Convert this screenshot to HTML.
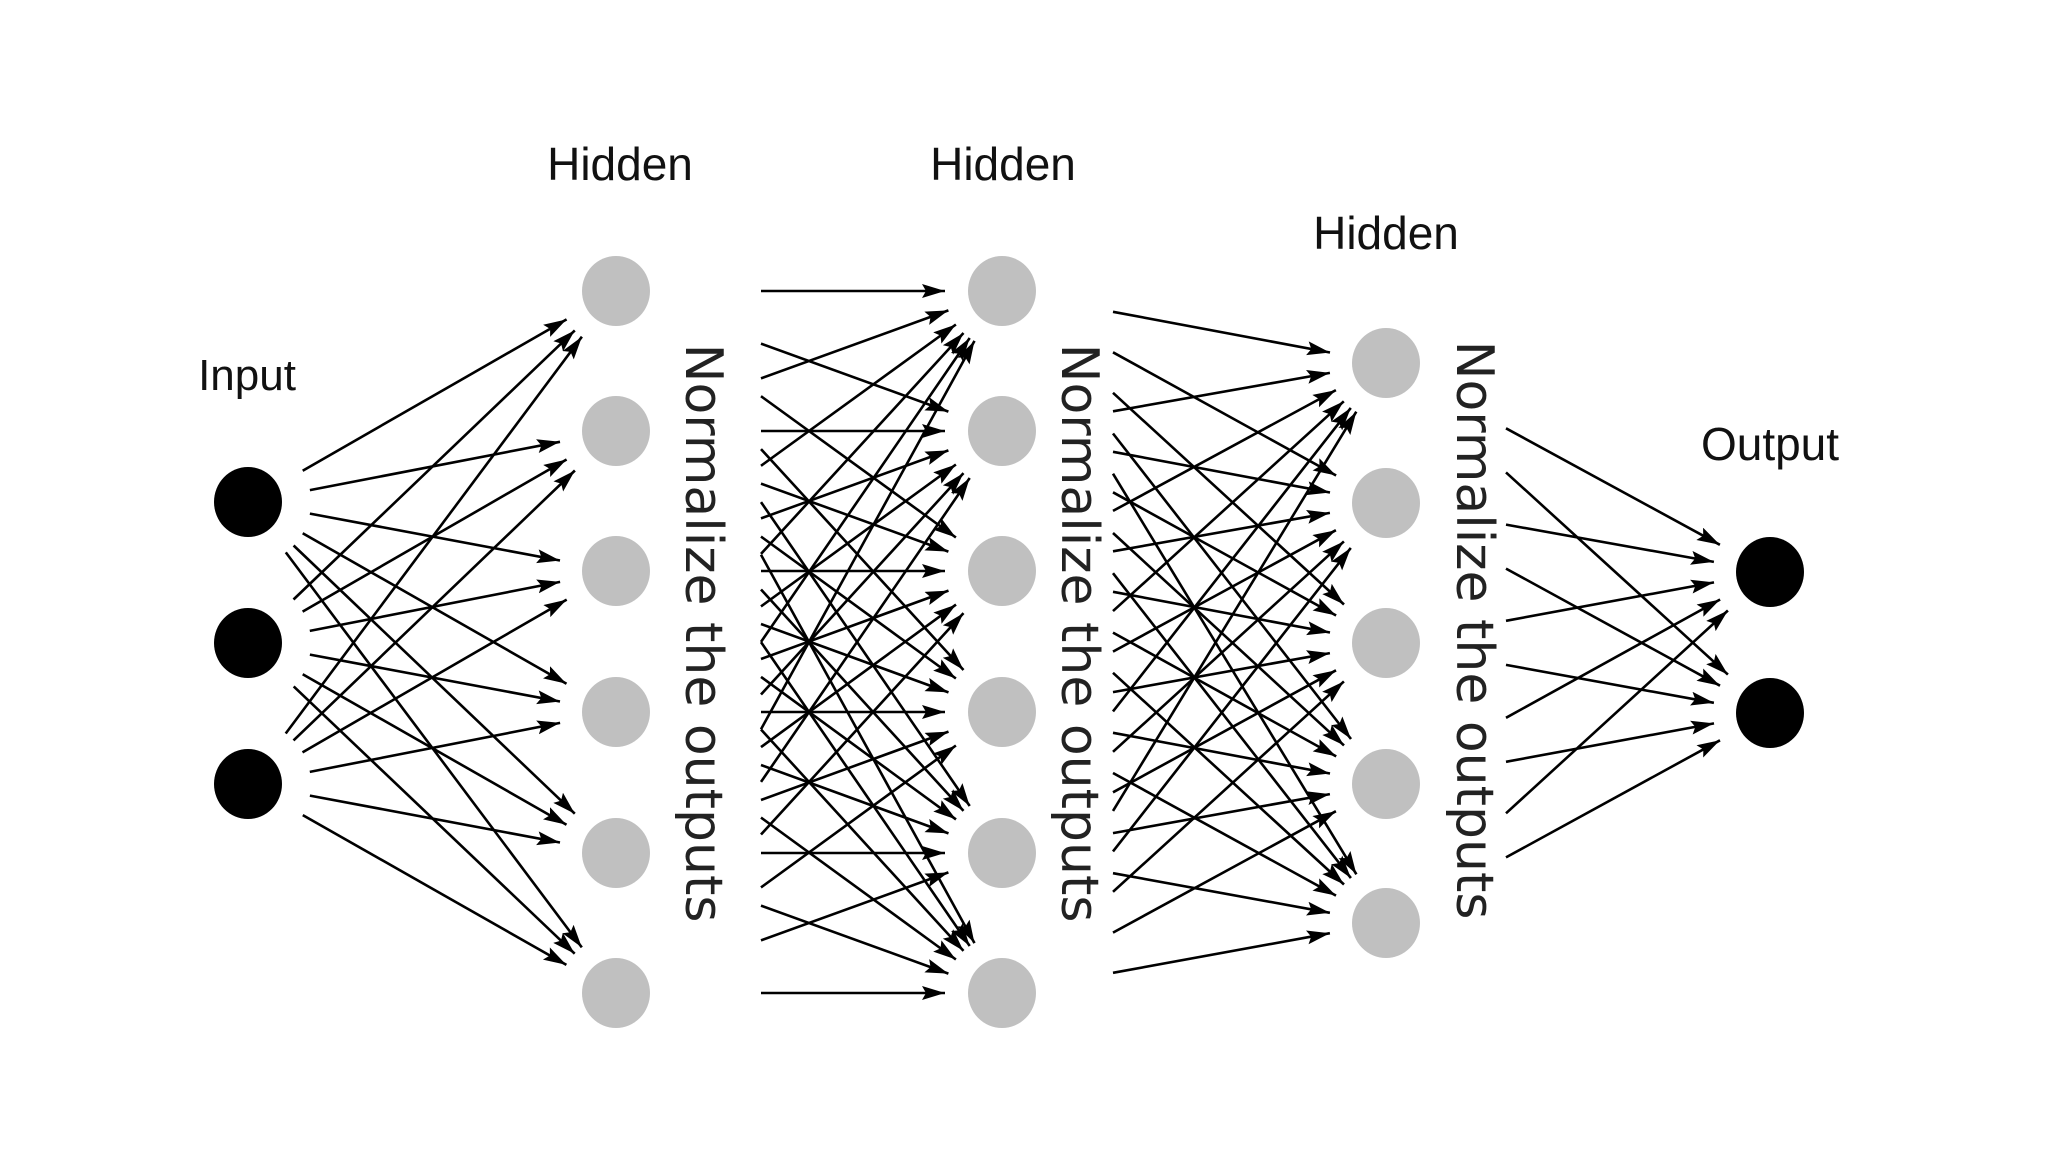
<!DOCTYPE html>
<html><head><meta charset="utf-8">
<style>
html,body{margin:0;padding:0;background:#fff;}
svg{display:block;}
text{font-family:"Liberation Sans",sans-serif;fill:#111;}
.norm{font-family:"DejaVu Sans",sans-serif;font-size:52px;fill:#222;}
</style></head>
<body>
<svg id="s" width="2048" height="1152" viewBox="0 0 2048 1152" xmlns="http://www.w3.org/2000/svg">
<defs>
<marker id="ah" markerUnits="userSpaceOnUse" markerWidth="24" markerHeight="16" refX="23" refY="7" orient="auto">
<path d="M0,0 L23,7 L0,14 L4,7 Z" fill="#000"/>
</marker>
</defs>
<rect width="2048" height="1152" fill="#fff"/>
<g id="lines" stroke="#000" stroke-width="2.6" fill="none"></g>
<g id="nodes"></g>
<text x="247" y="390" font-size="44" text-anchor="middle">Input</text>
<text x="620" y="180" font-size="46" text-anchor="middle">Hidden</text>
<text x="1003" y="180" font-size="46" text-anchor="middle">Hidden</text>
<text x="1386" y="249" font-size="46" text-anchor="middle">Hidden</text>
<text x="1770" y="460" font-size="46" text-anchor="middle">Output</text>
<text class="norm" transform="translate(686,633) rotate(90)" text-anchor="middle">Normalize the outputs</text>
<text class="norm" transform="translate(1062,633) rotate(90)" text-anchor="middle">Normalize the outputs</text>
<text class="norm" transform="translate(1457,630) rotate(90)" text-anchor="middle">Normalize the outputs</text>
</svg>
<script>
(function(){
var NS="http://www.w3.org/2000/svg";
var L0={x:248,ys:[502,643,784],fill:"#000"};
var hy=[291,431,571,712,853,993];
var L1={x:616,ys:hy,fill:"#c0c0c0"};
var L2={x:1002,ys:hy,fill:"#c0c0c0"};
var L3={x:1386,ys:[363,503,643,784,923],fill:"#c0c0c0"};
var L4={x:1770,ys:[572,713],fill:"#000"};
var layers=[L0,L1,L2,L3,L4];
var lines=document.getElementById("lines");
var nodes=document.getElementById("nodes");
function conn(A,B,clipX){
  A.ys.forEach(function(ya){
    B.ys.forEach(function(yb){
      var dx=B.x-A.x, dy=yb-ya, len=Math.sqrt(dx*dx+dy*dy);
      var ux=dx/len, uy=dy/len;
      var sx,sy;
      if(clipX===null){sx=A.x+ux*63;sy=ya+uy*63;}
      else{var t=(clipX-A.x)/dx;sx=clipX;sy=ya+dy*t;}
      var ex=B.x-ux*57, ey=yb-uy*57;
      var l=document.createElementNS(NS,"line");
      l.setAttribute("x1",sx.toFixed(1));l.setAttribute("y1",sy.toFixed(1));
      l.setAttribute("x2",ex.toFixed(1));l.setAttribute("y2",ey.toFixed(1));
      l.setAttribute("marker-end","url(#ah)");
      lines.appendChild(l);
    });
  });
}
conn(L0,L1,null);
conn(L1,L2,761);
conn(L2,L3,1113);
conn(L3,L4,1506);
layers.forEach(function(L){
  L.ys.forEach(function(y){
    var c=document.createElementNS(NS,"ellipse");
    c.setAttribute("cx",L.x);c.setAttribute("cy",y);
    c.setAttribute("rx",34);c.setAttribute("ry",35);
    c.setAttribute("fill",L.fill);
    nodes.appendChild(c);
  });
});
})();
</script>
</body></html>
